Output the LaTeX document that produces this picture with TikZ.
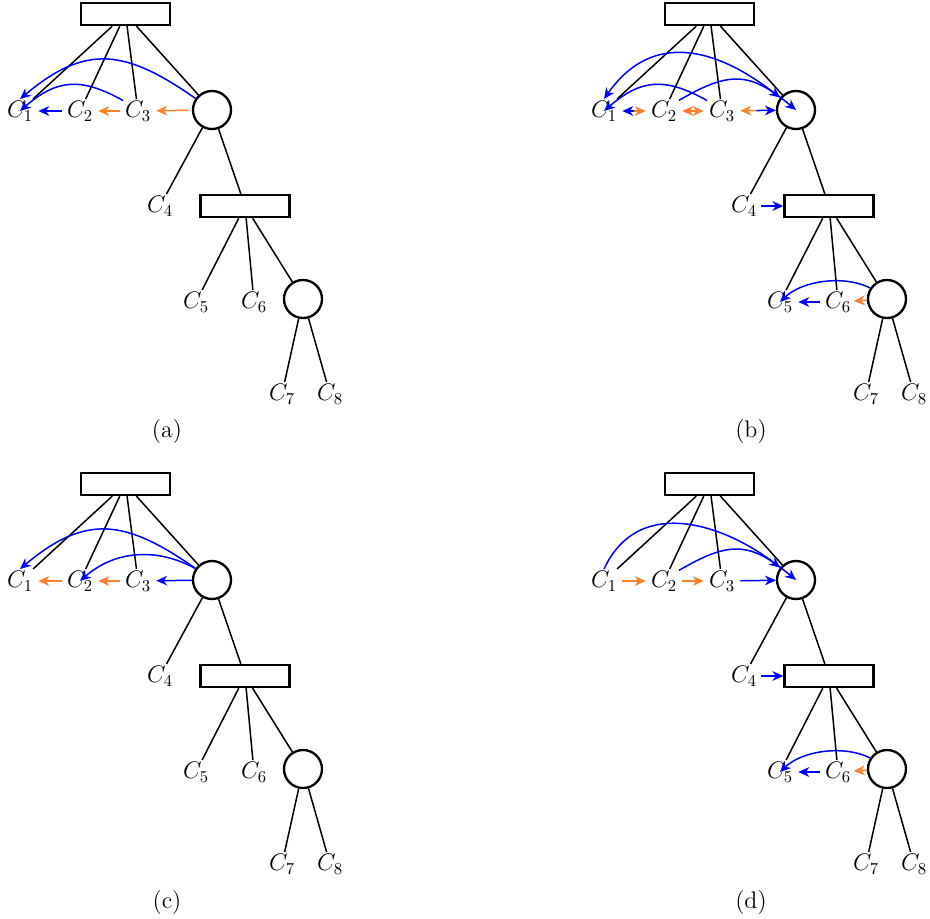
\documentclass[tikz,border=0pt]{standalone}
\usetikzlibrary{arrows.meta}
\definecolor{arrorange}{RGB}{255,127,42}
\tikzstyle{box} = [draw, line width=1.4pt, minimum width=53.4pt, minimum height=13.2pt, inner sep=0pt]
\tikzstyle{joint} = [draw, line width=1.4pt, circle, minimum size=22.8pt, inner sep=0pt]
\tikzstyle{leaf} = [inner sep=1pt, font=\Large]
\tikzstyle{caption} = [font=\Large]
\tikzstyle{link} = [line width=0.9pt]
\tikzstyle{bluearr} = [line width=0.9pt, blue, -{Stealth[length=6.5pt,width=5.8pt,inset=2pt]}]
\tikzstyle{orangearr} = [line width=0.9pt, arrorange, -{Stealth[length=6.5pt,width=5.8pt,inset=2pt]}]
\tikzstyle{gap} = [shorten <=2pt, shorten >=2pt]

% the tree that every panel repeats
\newcommand{\basetree}{
    \node[box] (r1) at (125.5,14) {};
    \node[joint] (o1) at (212,110) {};
    \node[leaf] (c1) at (20,111) {$C_1$};
    \node[leaf] (c2) at (80,111) {$C_2$};
    \node[leaf] (c3) at (138,111) {$C_3$};
    \node[leaf] (c4) at (160,206) {$C_4$};
    \node[box] (r2) at (245,206) {};
    \node[leaf] (c5) at (196,302) {$C_5$};
    \node[leaf] (c6) at (254,302) {$C_6$};
    \node[joint] (o2) at (303,299) {};
    \node[leaf] (c7) at (282,394) {$C_7$};
    \node[leaf] (c8) at (330,394) {$C_8$};

    \draw[link] (r1) -- (c1);
    \draw[link] (r1) -- (c2);
    \draw[link] (r1) -- (c3);
    \draw[link] (r1) -- (o1);
    \draw[link] (o1) -- (c4);
    \draw[link] (o1) -- (r2);
    \draw[link] (r2) -- (c5);
    \draw[link] (r2) -- (c6);
    \draw[link] (r2) -- (o2);
    \draw[link] (o2) -- (c7);
    \draw[link] (o2) -- (c8);
}

\begin{document}
\begin{tikzpicture}[x=0.6pt, y=-0.6pt]
    \useasboundingbox (0,0) rectangle (930,918);

    % (a)
    \begin{scope}[name prefix=a-]
        \basetree
        \draw[bluearr, gap] (c2) -- (c1);
        \draw[orangearr, gap] (c3) -- (c2);
        \draw[orangearr, gap] (o1) -- (c3);
        \draw[bluearr] (c3) to[bend right=35, looseness=1.2] (c1);
        \draw[bluearr] (o1) to[out=145, in=40, looseness=1.25] (c1.north);
        \node[caption] (cap) at (167,432) {(a)};
    \end{scope}

    % (b)
    \begin{scope}[shift={(584,0)}, name prefix=b-]
        \basetree
        \path (c1) -- (c2) coordinate[midway] (m12);
        \path (c2) -- (c3) coordinate[midway] (m23);
        \path (c3) -- (o1) coordinate[midway] (m3o);
        \draw[bluearr, shorten >=2pt] (m12) -- (c1);
        \draw[orangearr, shorten >=2pt] (m12) -- (c2);
        \draw[orangearr, shorten >=2pt] (m23) -- (c2);
        \draw[orangearr, shorten >=2pt] (m23) -- (c3);
        \draw[orangearr, shorten >=2pt] (m3o) -- (c3);
        \draw[bluearr] (m3o) -- (o1);
        \draw[bluearr] (c3) to[bend right=35, looseness=1.2] (c1);
        \draw[bluearr] (c2) to[bend left=35, looseness=1.3] (o1);
        \draw[bluearr, {Stealth[length=6.5pt,width=5.8pt,inset=2pt]}-{Stealth[length=6.5pt,width=5.8pt,inset=2pt]}] (o1) to[out=142, in=55, looseness=1.2] (c1.north);
        \draw[bluearr, shorten <=1pt] (c4) -- (r2);
        \draw[bluearr, gap] (c6) -- (c5);
        \draw[orangearr, shorten >=0.5pt] (o2) -- (c6);
        \draw[bluearr] (o2) to[bend right=35, looseness=0.85] (c5);
        \node[caption] (cap) at (167,432) {(b)};
    \end{scope}

    % (c)
    \begin{scope}[shift={(0,470)}, name prefix=c-]
        \basetree
        \draw[orangearr, gap] (c2) -- (c1);
        \draw[orangearr, gap] (c3) -- (c2);
        \draw[bluearr, shorten >=2pt] (o1) -- (c3);
        \draw[bluearr] (o1) to[out=145, in=40, looseness=1.25] (c1.north);
        \draw[bluearr] (o1) to[bend right=35, looseness=1] (c2);
        \node[caption] (cap) at (167,432) {(c)};
    \end{scope}

    % (d)
    \begin{scope}[shift={(584,470)}, name prefix=d-]
        \basetree
        \draw[orangearr, gap] (c1) -- (c2);
        \draw[orangearr, gap] (c2) -- (c3);
        \draw[bluearr, shorten <=2pt] (c3) -- (o1);
        \draw[bluearr] (c1.north) to[out=65, in=142, looseness=1.13] (o1);
        \draw[bluearr] (c2) to[bend left=35, looseness=1.3] (o1);
        \draw[bluearr, shorten <=1pt] (c4) -- (r2);
        \draw[bluearr, gap] (c6) -- (c5);
        \draw[orangearr, shorten >=0.5pt] (o2) -- (c6);
        \draw[bluearr] (o2) to[bend right=35, looseness=0.85] (c5);
        \node[caption] (cap) at (167,432) {(d)};
    \end{scope}
\end{tikzpicture}
\end{document}
